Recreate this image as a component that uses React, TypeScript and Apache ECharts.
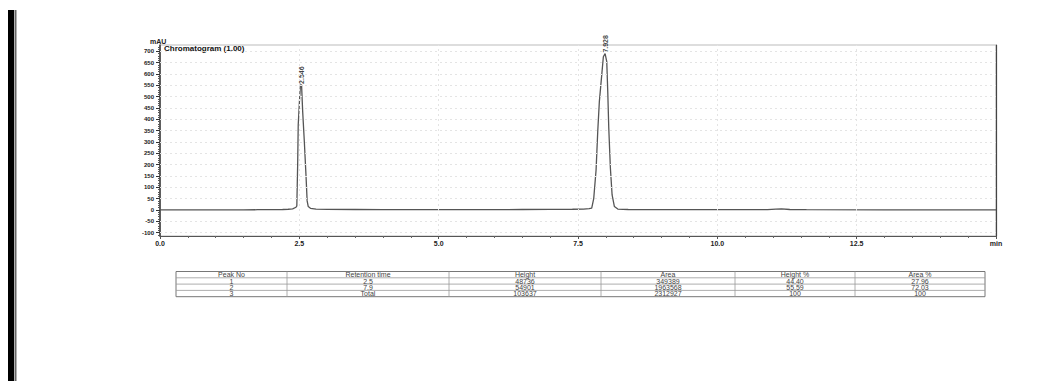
import React, { useEffect, useRef } from "react";
import * as echarts from "echarts";

// chromatogram trace: time (min) and absorbance (mAU)
const TIME = [0, 0.5, 1.0, 1.5, 1.75, 2.0, 2.2, 2.3, 2.38, 2.44, 2.455, 2.47, 2.48, 2.5, 2.52, 2.54, 2.56, 2.59, 2.62, 2.64, 2.66, 2.7, 2.8, 3.0, 3.5, 4.0, 4.5, 5.0, 5.5, 6.0, 6.5, 7.0, 7.4, 7.6, 7.7, 7.746, 7.782, 7.824, 7.854, 7.883, 7.926, 7.955, 7.986, 8.016, 8.034, 8.052, 8.081, 8.112, 8.153, 8.214, 8.4, 9.0, 10.0, 10.9, 11.05, 11.15, 11.3, 11.6, 13.0, 15.0];
const MAU = [0, 0, 0, 0, 1, 1.5, 2, 3, 5, 12, 18, 200, 375, 470, 552, 552, 434, 300, 150, 40, 15, 7, 3.5, 2.5, 2, 1.5, 1.5, 1.5, 1.5, 1.5, 2, 2.5, 3, 4, 6, 8, 50, 175, 345, 478, 596, 676, 690, 655, 522, 362, 185, 66, 15, 4, 2, 1, 1, 1, 4, 5, 2, 1, 0.5, 0.5];

// peak labels
const PEAK_TIMES = [2.535, 7.986];
const PEAK_TOPS = [552, 690];
const PEAK_LABELS = ["2.546", "7.928"];

// axis ticks
const Y_LABEL_VALUES = [-100, -50, 0, 50, 100, 150, 200, 250, 300, 350, 400, 450, 500, 550, 600, 650, 700];
const Y_MINOR_VALUES = [-110, -90, -80, -70, -60, -40, -30, -20, -10, 10, 20, 30, 40, 60, 70, 80, 90, 110, 120, 130, 140, 160, 170, 180, 190, 210, 220, 230, 240, 260, 270, 280, 290, 310, 320, 330, 340, 360, 370, 380, 390, 410, 420, 430, 440, 460, 470, 480, 490, 510, 520, 530, 540, 560, 570, 580, 590, 610, 620, 630, 640, 660, 670, 680, 690, 710, 720];
const X_GRID_VALUES = [2.5, 5.0, 7.5, 10.0, 12.5];

// results table
const TABLE_HEADERS = ["Peak No", "Retention time", "Height", "Area", "Height %", "Area %"];
const PEAK_NO = ["1", "2", "3"];
const RETENTION = ["2.5", "7.9", "Total"];
const HEIGHT = ["48736", "54901", "103637"];
const AREA = ["349389", "1963568", "2312927"];
const HEIGHT_PCT = ["44.40", "55.59", "100"];
const AREA_PCT = ["27.96", "72.03", "100"];

const FONT = "'Liberation Sans', Arial, sans-serif";

export default function App() {
  const ref = useRef<HTMLDivElement>(null);
  useEffect(() => {
    if (!ref.current) return;
    const chart = echarts.init(ref.current, null, { renderer: "svg" });
    const data = TIME.map((t, i) => [t, MAU[i]]);
    const peaks = PEAK_TIMES.map((t, i) => ({ value: [t, PEAK_TOPS[i]], label: PEAK_LABELS[i] }));

    const colX = [176, 287, 449, 601, 735, 855, 985];
    const rowY = [271.5, 277.8, 284.1, 290.4, 296.7];
    const rows = [TABLE_HEADERS];
    for (let i = 0; i < PEAK_NO.length; i++) {
      rows.push([PEAK_NO[i], RETENTION[i], HEIGHT[i], AREA[i], HEIGHT_PCT[i], AREA_PCT[i]]);
    }
    const tableEls: any[] = [];
    tableEls.push({
      type: "rect",
      shape: { x: colX[0], y: rowY[0], width: colX[6] - colX[0], height: rowY[4] - rowY[0] },
      style: { fill: "none", stroke: "#777", lineWidth: 1 },
    });
    for (let r = 1; r < 4; r++) {
      tableEls.push({
        type: "line",
        shape: { x1: colX[0], y1: rowY[r], x2: colX[6], y2: rowY[r] },
        style: { stroke: "#999", lineWidth: 0.8 },
      });
    }
    for (let c = 1; c < 6; c++) {
      tableEls.push({
        type: "line",
        shape: { x1: colX[c], y1: rowY[0], x2: colX[c], y2: rowY[4] },
        style: { stroke: "#999", lineWidth: 0.8 },
      });
    }
    rows.forEach((row, r) => {
      row.forEach((txt, c) => {
        tableEls.push({
          type: "text",
          x: (colX[c] + colX[c + 1]) / 2,
          y: (rowY[r] + rowY[r + 1]) / 2 + 0.3,
          style: {
            text: txt,
            fill: "#444",
            font: `7px ${FONT}`,
            align: "center",
            verticalAlign: "middle",
          },
        });
      });
    });

    chart.setOption({
      animation: false,
      backgroundColor: "#fff",
      grid: {
        left: 160,
        right: 58,
        top: 45,
        bottom: 145,
        show: true,
        borderColor: "#bbb",
        borderWidth: 1,
        containLabel: false,
      },
      xAxis: {
        type: "value",
        min: 0,
        max: 15,
        interval: 2.5,
        axisLine: { show: true, onZero: false, lineStyle: { color: "#555", width: 1 } },
        axisTick: { show: true, length: 3, lineStyle: { color: "#555" } },
        minorTick: { show: true, splitNumber: 5, length: 2, lineStyle: { color: "#666" } },
        axisLabel: {
          fontSize: 7,
          fontWeight: "bold",
          fontFamily: FONT,
          color: "#222",
          margin: 4,
          formatter: (v: number) => (v === 15 ? "min" : v.toFixed(1)),
        },
        splitLine: { show: false },
      },
      yAxis: [
        {
          type: "value",
          min: -115,
          max: 728,
          axisLine: { show: true, lineStyle: { color: "#333", width: 1.5 } },
          axisTick: { show: true, length: 4, customValues: Y_LABEL_VALUES, lineStyle: { color: "#333" } },
          axisLabel: {
            customValues: Y_LABEL_VALUES,
            fontSize: 6,
            fontWeight: "bold",
            fontFamily: FONT,
            color: "#222",
            margin: 6,
          },
          splitLine: { show: false },
        },
        {
          type: "value",
          min: -115,
          max: 728,
          axisLine: { show: false },
          axisTick: { show: true, length: 2, customValues: Y_MINOR_VALUES, lineStyle: { color: "#555" } },
          axisLabel: { show: false },
          splitLine: { show: false },
          position: "left",
        },
        {
          type: "value",
          min: -115,
          max: 728,
          position: "right",
          axisLine: { show: true, lineStyle: { color: "#444", width: 1.2 } },
          axisTick: { show: false },
          axisLabel: { show: false },
          splitLine: { show: false },
        },
      ],
      series: [
        {
          type: "line",
          data,
          yAxisIndex: 0,
          showSymbol: false,
          symbol: "none",
          lineStyle: { color: "#555", width: 1.3 },
          markLine: {
            silent: true,
            symbol: "none",
            label: { show: false },
            lineStyle: { color: "#e4e4e4", type: [2, 3], width: 1 },
            data: [
              ...Y_LABEL_VALUES.filter((v) => v !== 0).map((v) => ({ yAxis: v })),
              ...X_GRID_VALUES.map((v) => ({ xAxis: v })),
            ],
          },
        },
        {
          type: "scatter",
          yAxisIndex: 0,
          symbolSize: 0,
          data: peaks.map((p) => p.value),
          label: {
            show: true,
            position: "top",
            distance: 1,
            rotate: 90,
            align: "left",
            verticalAlign: "middle",
            fontSize: 7,
            fontWeight: "bold",
            fontFamily: FONT,
            color: "#111",
            formatter: (p: any) => PEAK_LABELS[p.dataIndex],
          },
        },
      ],
      graphic: [
        { type: "rect", shape: { x: 8, y: 10, width: 6, height: 371 }, style: { fill: "#000" } },
        { type: "rect", shape: { x: 14.5, y: 10, width: 2, height: 371 }, style: { fill: "#666" } },
        {
          type: "text",
          x: 150,
          y: 38,
          style: { text: "mAU", font: `bold 7px ${FONT}`, fill: "#222" },
        },
        {
          type: "text",
          x: 164,
          y: 44,
          style: { text: "Chromatogram (1.00)", font: `bold 8px ${FONT}`, fill: "#111" },
        },
        ...tableEls,
      ],
    });
    return () => chart.dispose();
  }, []);
  return (
    <div
      ref={ref}
      style={{ position: "fixed", left: 0, top: 0, width: 1054, height: 381, background: "#fff" }}
    />
  );
}
